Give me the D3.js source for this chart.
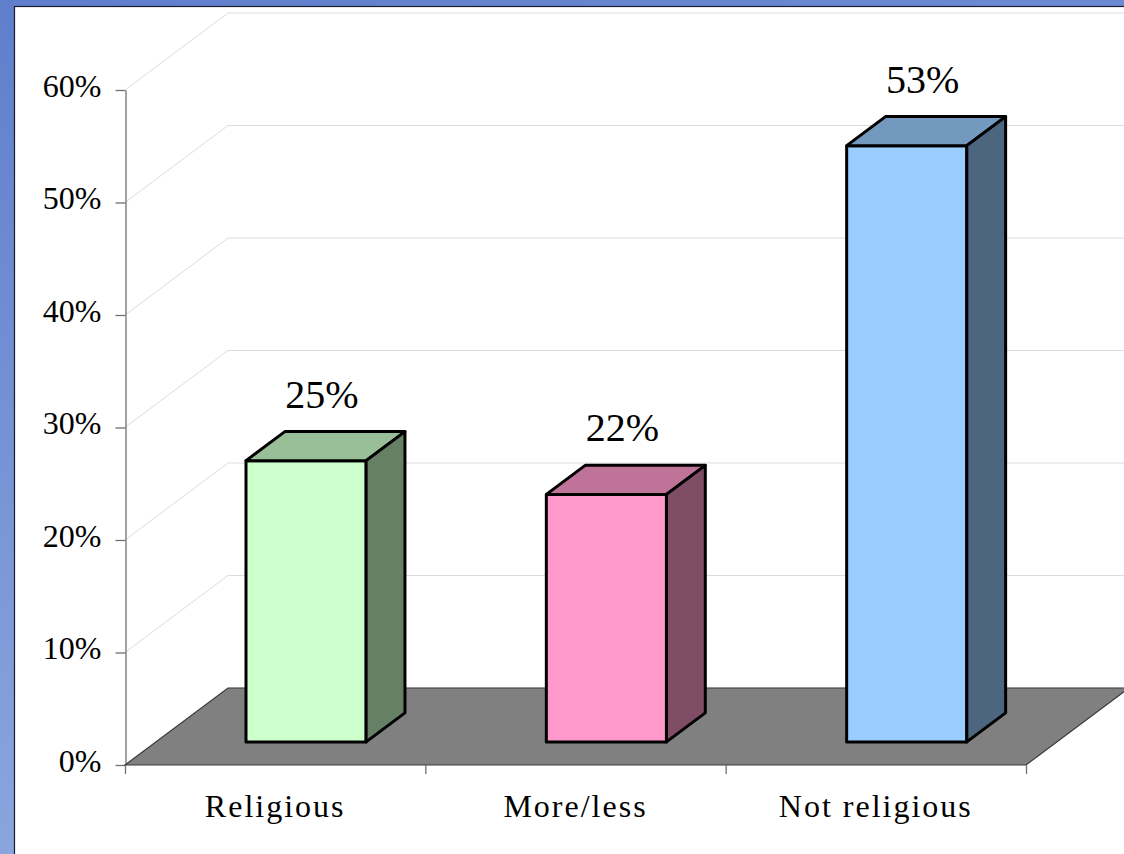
<!DOCTYPE html>
<html>
<head>
<meta charset="utf-8">
<script src="https://cdn.jsdelivr.net/npm/d3@7"></script>
<style>
  html, body { margin: 0; padding: 0; background: #ffffff; }
  svg { display: block; }
  text { font-family: "Liberation Serif", "Times New Roman", serif; fill: #000; }
</style>
</head>
<body>
<svg id="chart" width="1124" height="854"></svg>
<script>
// ---- data ----
const categories = ["Religious", "More/less", "Not religious"];
const values = [25, 22, 53];
const yTicks = [0, 10, 20, 30, 40, 50, 60];
const frontColors = ["#CCFFCC", "#FF99CC", "#99CCFF"];
const topColors = ["#99BF99", "#BF7399", "#7399BF"];
const sideColors = ["#668066", "#804D66", "#4D6680"];

const W = 1124, H = 854;
const svg = d3.select("#chart");

// background border gradient
const defs = svg.append("defs");
const grad = defs.append("linearGradient").attr("id", "bg")
  .attr("x1", "0").attr("y1", "0").attr("x2", "0.3").attr("y2", "1");
grad.append("stop").attr("offset", "0").attr("stop-color", "#5f7fcc");
grad.append("stop").attr("offset", "1").attr("stop-color", "#8ea8df");
svg.append("rect").attr("x", 0).attr("y", 0).attr("width", W).attr("height", H).attr("fill", "url(#bg)");
svg.append("rect").attr("x", 14.5).attr("y", 6.5).attr("width", W + 20).attr("height", H + 20)
  .attr("fill", "#ffffff").attr("stroke", "#1c1c30").attr("stroke-width", 1.2);

// scales
const x = d3.scaleBand().domain(categories).range([125, 1026]).paddingInner(0).paddingOuter(0);
const y = d3.scaleLinear().domain([0, 60]).range([765, 90]);
const DX = 103, DY = 77;           // full depth projection
const d0 = 0.30, d1 = 0.677;        // bar depth range (fraction of full depth)
const barFrac = 0.4;
const P = (px, v, f) => [px + f * DX, y(v) - f * DY];
const pts = arr => arr.map(p => p.join(",")).join(" ");

// gridlines: left wall diagonals + back wall horizontals
const grid = svg.append("g").attr("stroke", "#dcdcdc").attr("stroke-width", 1).attr("fill", "none");
yTicks.forEach(t => {
  const a = P(x.range()[0], t, 0), b = P(x.range()[0], t, 1);
  grid.append("line").attr("x1", a[0]).attr("y1", a[1]).attr("x2", b[0]).attr("y2", b[1]);
  grid.append("line").attr("x1", b[0]).attr("y1", b[1]).attr("x2", W + 10).attr("y2", b[1]);
});

// y axis
const yAxis = d3.axisLeft(y).tickValues(yTicks).tickFormat(d => d + "%").tickSize(10).tickSizeOuter(0).tickPadding(14);
const gy = svg.append("g").attr("transform", "translate(125.5,0)").call(yAxis);
gy.select(".domain").attr("stroke", "#707070").attr("stroke-width", 1.3);
gy.selectAll(".tick line").attr("stroke", "#707070").attr("stroke-width", 1.3);
gy.selectAll(".tick text").attr("font-family", "Liberation Serif").attr("font-size", 32)
  .attr("dy", "0.2em").attr("fill", "#000");

// floor
const x0 = x.range()[0], x1 = x.range()[1];
svg.append("polygon")
  .attr("points", pts([P(x0, 0, 0), P(x1, 0, 0), P(x1, 0, 1), P(x0, 0, 1)]))
  .attr("fill", "#808080").attr("stroke", "#3a3a3a").attr("stroke-width", 1.2);

// x ticks at band boundaries
const edges = [x0].concat(categories.map(c => x(c) + x.bandwidth()));
svg.append("g").selectAll("line").data(edges).join("line")
  .attr("x1", d => d + 0.5).attr("x2", d => d + 0.5)
  .attr("y1", y(0)).attr("y2", y(0) + 9)
  .attr("stroke", "#707070").attr("stroke-width", 1.3);

// category labels
svg.append("g").selectAll("text").data(categories).join("text")
  .attr("x", d => x(d) + x.bandwidth() / 2)
  .attr("y", 817)
  .attr("text-anchor", "middle")
  .attr("font-size", 32)
  .attr("letter-spacing", "2px")
  .text(d => d);

// bars
const bars = svg.append("g");
categories.forEach((c, i) => {
  const v = values[i];
  const bw = x.bandwidth() * barFrac;
  const xl = x(c) + (x.bandwidth() - bw) / 2, xr = xl + bw;
  const g = bars.append("g").attr("stroke", "#000").attr("stroke-width", 3).attr("stroke-linejoin", "round");
  g.append("polygon").attr("fill", frontColors[i])
    .attr("points", pts([P(xl, 0, d0), P(xr, 0, d0), P(xr, v, d0), P(xl, v, d0)]));
  g.append("polygon").attr("fill", topColors[i])
    .attr("points", pts([P(xl, v, d0), P(xr, v, d0), P(xr, v, d1), P(xl, v, d1)]));
  g.append("polygon").attr("fill", sideColors[i])
    .attr("points", pts([P(xr, 0, d0), P(xr, 0, d1), P(xr, v, d1), P(xr, v, d0)]));
  const xc = (xl + xr) / 2;
  svg.append("text")
    .attr("x", P(xc, v, 0.455)[0])
    .attr("y", P(xc, v, d1)[1] - 24)
    .attr("text-anchor", "middle")
    .attr("font-size", 40)
    .text(v + "%");
});
</script>
</body>
</html>
